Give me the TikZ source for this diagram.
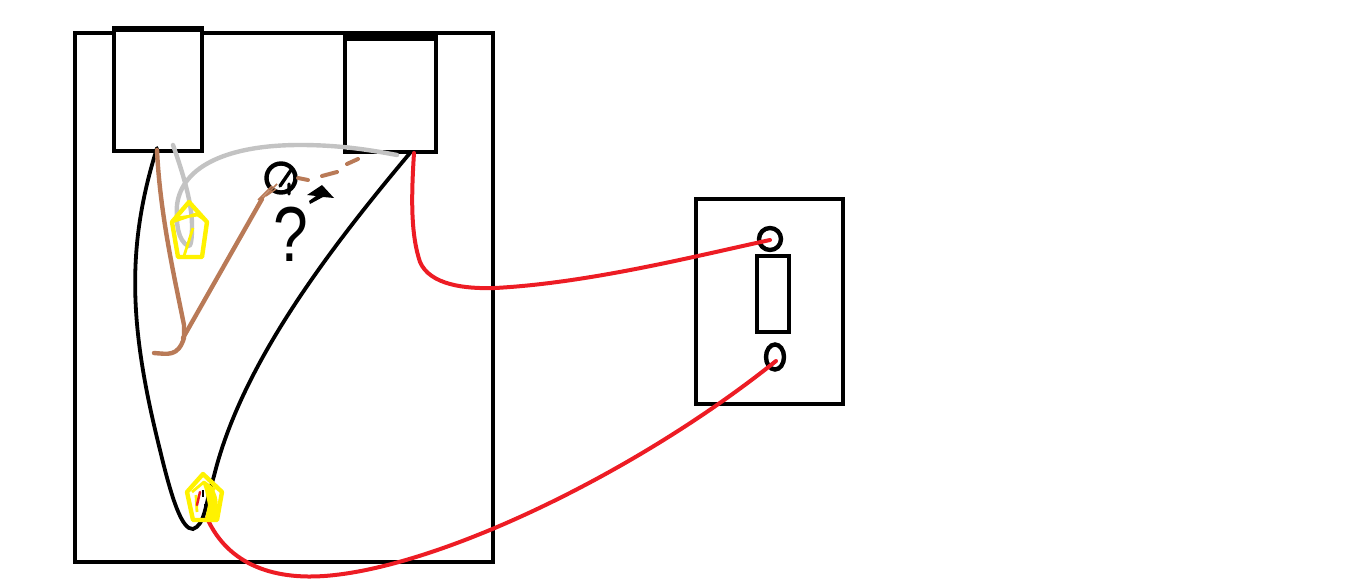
\documentclass[tikz,border=0pt]{standalone}
\usepackage{fontspec}
\setmainfont{Liberation Sans}
\usetikzlibrary{shapes.geometric}
\tikzset{
 box/.style={draw=black,line width=4.6pt,rectangle,inner sep=0pt,outer sep=0pt},
 term/.style={draw=black,line width=4.4pt,circle,inner sep=0pt,minimum size=22pt},
 blackwire/.style={draw=black,line width=3.8pt,line cap=round},
 redwire/.style={draw=wirered,line width=4pt,line cap=round},
 graywire/.style={draw=wiregray,line width=4.4pt,line cap=round},
 brownwire/.style={draw=wirebrown,line width=4.4pt,line cap=round,line join=round},
 nut/.style={draw=nutyellow,line width=4.4pt,line join=round,fill=none},
}
\definecolor{wirered}{HTML}{ED1C24}
\definecolor{wiregray}{HTML}{C3C3C3}
\definecolor{wirebrown}{HTML}{B97A57}
\definecolor{nutyellow}{HTML}{FFF200}
\begin{document}
\begin{tikzpicture}[x=1pt,y=-1pt]
\useasboundingbox (0,0) rectangle (1364,588);
% enclosure
\node[box,minimum width=418pt,minimum height=529pt] (enc) at (284,297.5) {};
\node[box,fill=white,minimum width=88pt,minimum height=121pt] (recL) at (158,90.5) {};
\node[box,fill=white,minimum width=91pt,minimum height=113pt] (recR) at (390.5,95.5) {};
\draw[line width=5pt] (112,29) -- (204,29);
\draw[line width=5pt] (343,37.5) -- (438,37.5);
% switch
\node[box,minimum width=147pt,minimum height=205pt] (plate) at (769.5,301.5) {};
\node[box,minimum width=32pt,minimum height=76pt] (lever) at (773,294) {};
\node[term] (top) at (770,239) {};
\node[draw=black,line width=4.4pt,ellipse,inner sep=0pt,minimum width=18pt,minimum height=25pt] (bot) at (775,357) {};
\node[term,minimum size=29pt] (ring) at (281,178) {};
% anchors
\coordinate (lb) at (157,148);
\coordinate (rb) at (410,153);
\coordinate (rr) at (414,153);
\coordinate (rt) at (770,240);
\coordinate (rs) at (776,361);
\coordinate (rn) at (207,518);
% black wires
\draw[blackwire] (lb) .. controls (125,250) and (130,330) .. (160,450) .. controls (172,500) and (182,530) .. (193,529) .. controls (205,525) and (205,505) .. (214,476) .. controls (240,370) and (320,260) .. (rb);
% gray wires
\draw[graywire] (173,145) .. controls (180,165) and (192,200) .. (192,225) .. controls (192,240) and (191,247) .. (188,246) .. controls (178,240) and (176,225) .. (177,205) .. controls (182,165) and (230,145) .. (300,145) .. controls (340,145) and (370,150) .. (397,155);
% brown wires
\draw[brownwire] (157,150) .. controls (160,215) and (175,280) .. (184,325) -- (184,338) .. controls (178,357) and (168,354) .. (154,353);
\draw[brownwire] (183,338) -- (262,199);
\draw[wirebrown,line width=1.5pt] (262,199) -- (277,184) (258,200) -- (272,186) (266,196) -- (276,189);
\draw[brownwire,line width=4pt] (298,178) -- (308,180) (322,176) -- (337,172) (347,164) -- (358,159);
\draw[draw=black,line width=3.4pt,line cap=round] (291,170) -- (280,186) (289,184) -- (289,194);
% little arrow mark
\fill[black] (307,195) -- (322,185) -- (334,198) -- (323,197) -- (310,204) -- (309,201) -- (316,196) -- cycle;
% question mark
\node[inner sep=0pt,font=\fontsize{78}{78}\selectfont,xscale=.8] (q) at (291,234) {?};
% nuts
\draw[nut] (189,202) -- (207,222) -- (202,257) -- (178,257) -- (172,222) -- cycle;
\draw[nut,line width=2.8pt] (172,222) -- (196,214) -- (205,220) (193,228) -- (184,256) (177,218) -- (198,215);
\draw[redwire] (rr) .. controls (411,200) and (411,235) .. (420,262) .. controls (430,285) and (465,289) .. (495,288) .. controls (590,283) and (700,255) .. (rt);
\draw[redwire] (rn) .. controls (228,565) and (275,582) .. (335,575) .. controls (450,562) and (640,470) .. (rs);
\draw[black,line width=1.5pt] (203,490) -- (203,497) (205,504) -- (205,510);
\path[fill=nutyellow] (203,484) .. controls (218,484) and (220,505) .. (216,519) -- (205,519) -- (208,505) -- (205,490) -- cycle;
\draw[nut] (203,474) -- (222,492) -- (217,520) -- (193,520) -- (187,492) -- cycle;
\draw[nut,line width=2.8pt] (192,492) -- (204,482) -- (215,490) (197,512) -- (196,495);
\draw[redwire,line width=2.5pt] (200,492) -- (197,505);
\end{tikzpicture}
\end{document}
